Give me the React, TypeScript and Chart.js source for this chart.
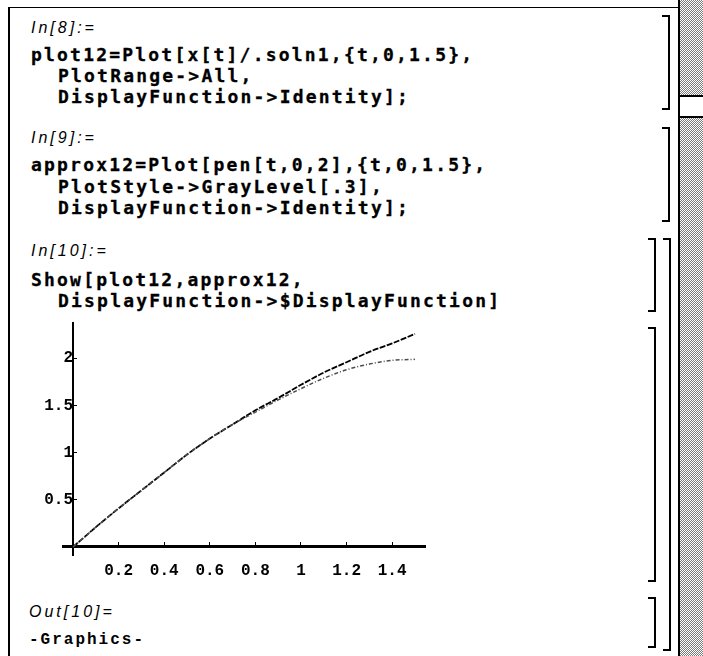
import React, { useEffect, useRef } from "react";
import { Chart, registerables } from "chart.js";

Chart.register(...registerables);

// ---- data ----
const tValues = [0, 0.1, 0.2, 0.3, 0.4, 0.5, 0.6, 0.7, 0.8, 0.9, 1.0, 1.1, 1.2, 1.3, 1.4, 1.5];
const plot12Values = [0, 0.21, 0.41, 0.6, 0.79, 0.98, 1.15, 1.3, 1.45, 1.58, 1.72, 1.85, 1.96, 2.07, 2.16, 2.26];
const approx12Values = [0, 0.21, 0.41, 0.6, 0.79, 0.98, 1.15, 1.3, 1.43, 1.56, 1.68, 1.79, 1.88, 1.94, 1.98, 1.99];
const xTickValues = [0.2, 0.4, 0.6, 0.8, 1.0, 1.2, 1.4];
const xTickLabels = ["0.2", "0.4", "0.6", "0.8", "1", "1.2", "1.4"];
const yTickValues = [0.5, 1.0, 1.5, 2.0];
const yTickLabels = ["0.5", "1", "1.5", "2"];

const codeFont = '"DejaVu Sans Mono", monospace';
const labelFont = '"Liberation Sans", sans-serif';

function PlotCanvas() {
  const ref = useRef<HTMLCanvasElement | null>(null);
  useEffect(() => {
    if (!ref.current) return;
    const chart = new Chart(ref.current, {
      type: "line",
      data: {
        datasets: [
          {
            label: "approx12",
            data: tValues.map((t, i) => ({ x: t, y: approx12Values[i] })),
            borderColor: "#4d4d4d",
            borderWidth: 1.5,
            borderDash: [4, 2, 1, 2],
            pointRadius: 0,
            cubicInterpolationMode: "monotone",
          },
          {
            label: "plot12",
            data: tValues.map((t, i) => ({ x: t, y: plot12Values[i] })),
            borderColor: "#000",
            borderWidth: 1.8,
            borderDash: [6, 1.5],
            pointRadius: 0,
            cubicInterpolationMode: "monotone",
          },
        ],
      },
      options: {
        animation: false,
        responsive: false,
        maintainAspectRatio: false,
        layout: { padding: { left: 63, right: 25, top: 22, bottom: 45 } },
        plugins: { legend: { display: false }, tooltip: { enabled: false } },
        scales: {
          x: {
            type: "linear",
            position: { y: 0 },
            min: -0.044,
            max: 1.544,
            afterBuildTicks: (s: any) => {
              s.ticks = xTickValues.map((v) => ({ value: v }));
            },
            ticks: {
              callback: (v: any) => {
                const i = xTickValues.findIndex((x) => Math.abs(x - v) < 1e-6);
                return i >= 0 ? xTickLabels[i] : "";
              },
              color: "#000",
              padding: 20,
              maxRotation: 0,
              autoSkip: false,
              font: { family: '"Liberation Mono", monospace', size: 16, weight: "bold" },
            },
            grid: { display: true, drawOnChartArea: false, drawTicks: true, tickLength: -6, color: "#000", lineWidth: 1 },
            border: { display: true, color: "#000", width: 3 },
          },
          y: {
            type: "linear",
            position: { x: 0 },
            min: -0.085,
            max: 2.38,
            afterBuildTicks: (s: any) => {
              s.ticks = yTickValues.map((v) => ({ value: v }));
            },
            ticks: {
              callback: (v: any) => {
                const i = yTickValues.findIndex((x) => Math.abs(x - v) < 1e-6);
                return i >= 0 ? yTickLabels[i] : "";
              },
              color: "#000",
              padding: 13,
              autoSkip: false,
              font: { family: '"Liberation Mono", monospace', size: 16, weight: "bold" },
            },
            grid: { display: true, drawOnChartArea: false, drawTicks: true, tickLength: -5, color: "#000", lineWidth: 1 },
            border: { display: true, color: "#000", width: 2 },
          },
        },
      },
    } as any);
    return () => chart.destroy();
  }, []);
  return <canvas ref={ref} width={450} height={300} style={{ position: "absolute", left: 0, top: 300, width: 450, height: 300 }} />;
}

const codeStyle: React.CSSProperties = {
  position: "absolute",
  fontFamily: codeFont,
  fontWeight: "bold",
  fontSize: 18,
  letterSpacing: 2.2,
  lineHeight: "20px",
  whiteSpace: "pre",
  color: "#000",
  WebkitTextStroke: "0.3px #000",
};
const inStyle: React.CSSProperties = {
  position: "absolute",
  fontFamily: labelFont,
  fontStyle: "italic",
  fontSize: 16,
  letterSpacing: 3,
  lineHeight: "20px",
  whiteSpace: "pre",
  color: "#000",
};

function Line({ x, y, text, style }: { x: number; y: number; text: string; style: React.CSSProperties }) {
  return <div style={{ ...style, left: x, top: y - 10 }}>{text}</div>;
}

function Bracket({ x, top, bottom, w = 8 }: { x: number; top: number; bottom: number; w?: number }) {
  return (
    <div
      style={{
        position: "absolute",
        left: x,
        top,
        width: w,
        height: bottom - top,
        borderTop: "2px solid #000",
        borderBottom: "2px solid #000",
        borderRight: "2px solid #000",
        boxSizing: "border-box",
      }}
    />
  );
}

export default function App() {
  return (
    <div style={{ position: "absolute", left: 0, top: 0, width: 703, height: 656, background: "#fff", overflow: "hidden" }}>
      {/* window frame */}
      <div style={{ position: "absolute", left: 8, top: 7, width: 672, height: 1, background: "#000" }} />
      <div style={{ position: "absolute", left: 8, top: 7, width: 2, height: 660, background: "#000" }} />
      {/* scrollbar */}
      <div style={{ position: "absolute", left: 678, top: 0, width: 2, height: 656, background: "#000" }} />
      <div
        style={{
          position: "absolute",
          left: 680,
          top: 0,
          width: 23,
          height: 656,
          backgroundImage: "repeating-conic-gradient(#7a7a7a 0 25%, #fff 0 50%)",
          backgroundSize: "2px 2px",
        }}
      />
      <div style={{ position: "absolute", left: 680, top: 95, width: 23, height: 23, background: "#fff", borderTop: "2px solid #000", borderBottom: "2px solid #000", boxSizing: "border-box" }} />

      {/* In[8] */}
      <Line x={31} y={28} text="In[8]:=" style={inStyle} />
      <Line x={31} y={55} text="plot12=Plot[x[t]/.soln1,{t,0,1.5}," style={codeStyle} />
      <Line x={58} y={76} text="PlotRange->All," style={codeStyle} />
      <Line x={58} y={97} text="DisplayFunction->Identity];" style={codeStyle} />
      {/* In[9] */}
      <Line x={31} y={138} text="In[9]:=" style={inStyle} />
      <Line x={31} y={165} text="approx12=Plot[pen[t,0,2],{t,0,1.5}," style={codeStyle} />
      <Line x={58} y={187} text="PlotStyle->GrayLevel[.3]," style={codeStyle} />
      <Line x={58} y={208} text="DisplayFunction->Identity];" style={codeStyle} />
      {/* In[10] */}
      <Line x={31} y={251} text="In[10]:=" style={inStyle} />
      <Line x={31} y={280} text="Show[plot12,approx12," style={codeStyle} />
      <Line x={58} y={301} text="DisplayFunction->$DisplayFunction]" style={codeStyle} />

      <PlotCanvas />

      {/* Out[10] */}
      <Line x={29} y={612} text="Out[10]=" style={inStyle} />
      <Line x={29} y={640} text="-Graphics-" style={{ ...codeStyle, fontFamily: '"Liberation Mono", monospace', fontSize: 16, letterSpacing: 2, WebkitTextStroke: "0px" }} />

      {/* cell brackets */}
      <Bracket x={662} top={15} bottom={110} />
      <Bracket x={662} top={127} bottom={222} />
      <Bracket x={648} top={238} bottom={312} />
      <Bracket x={648} top={327} bottom={582} />
      <Bracket x={648} top={597} bottom={648} />
      <Bracket x={663} top={238} bottom={651} />
    </div>
  );
}
